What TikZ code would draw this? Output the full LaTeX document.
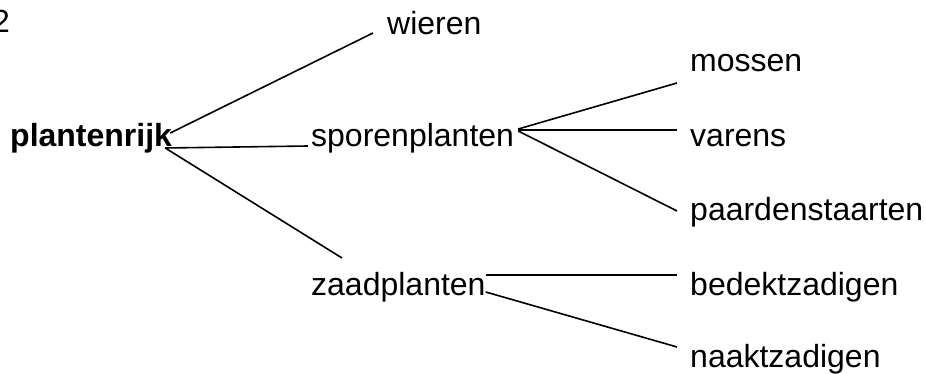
\documentclass[tikz,border=0pt]{standalone}
\usepackage{fontspec}
\setmainfont{Liberation Sans}
\begin{document}
\begin{tikzpicture}[x=1pt,y=-1pt,
  lbl/.style={anchor=base west,inner sep=0pt,font=\fontsize{32}{38}\selectfont},
  conn/.style={line width=1.6pt,black}]
\useasboundingbox (0,0) rectangle (926,374);
\clip (0,0) rectangle (926,374);
\fill[white] (0,0) rectangle (926,374);
\node[lbl] (two) at (-8,33) {2};
\node[lbl,font=\fontsize{32}{38}\selectfont\bfseries] (pr) at (10,147) {plantenrijk};
\node[lbl] (wie) at (387,35) {wieren};
\node[lbl] (spo) at (311,147) {sporenplanten};
\node[lbl] (zaa) at (311,295) {zaadplanten};
\node[lbl] (mos) at (690,72) {mossen};
\node[lbl] (var) at (690,147) {varens};
\node[lbl] (paa) at (690,220) {paardenstaarten};
\node[lbl] (bed) at (690,295) {bedektzadigen};
\node[lbl] (naa) at (690,367) {naaktzadigen};
\draw[conn] ([xshift=-2pt,yshift=14pt]pr.base east) -- ([xshift=-14pt,yshift=2pt]wie.base west);
\draw[conn] ([xshift=-7pt,yshift=-1pt]pr.base east) -- ([xshift=-3pt,yshift=1pt]spo.base west);
\draw[conn] ([xshift=-7pt,yshift=-1pt]pr.base east) -- ([xshift=31pt,yshift=37pt]zaa.base west);
\draw[conn] ([xshift=4pt,yshift=18pt]spo.base east) -- ([xshift=-13pt,yshift=-11pt]mos.base west);
\draw[conn] ([xshift=4pt,yshift=17pt]spo.base east) -- ([xshift=-13pt,yshift=17pt]var.base west);
\draw[conn] ([xshift=4pt,yshift=16pt]spo.base east) -- ([xshift=-13pt,yshift=9pt]paa.base west);
\draw[conn] ([yshift=20pt]zaa.base east) -- ([xshift=-13pt,yshift=20pt]bed.base west);
\draw[conn] ([yshift=3pt]zaa.base east) -- ([xshift=-13pt,yshift=20pt]naa.base west);
\end{tikzpicture}
\end{document}
